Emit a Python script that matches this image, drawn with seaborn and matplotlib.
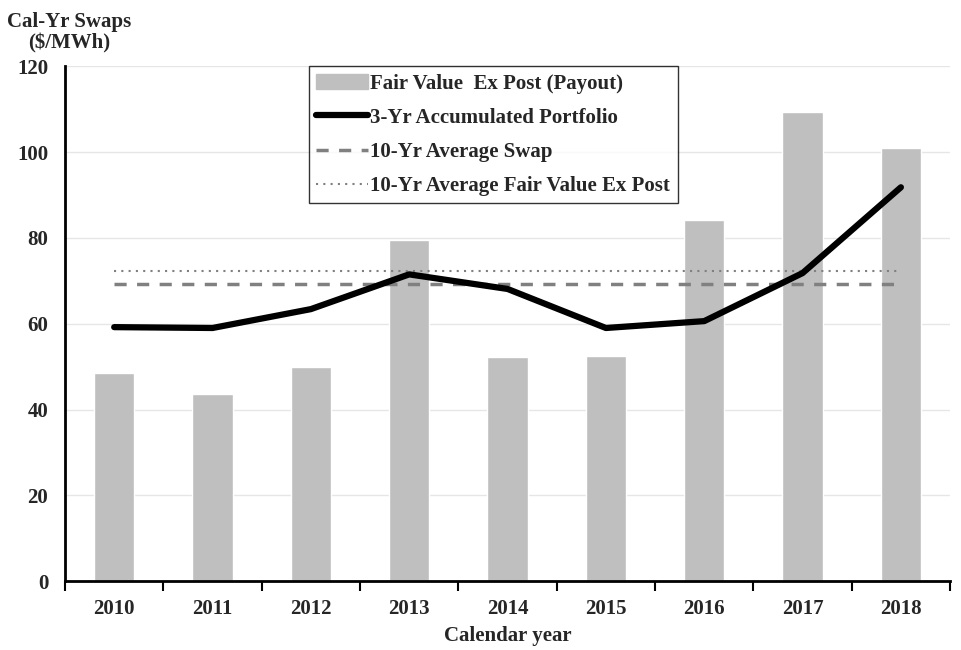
import matplotlib
matplotlib.use("Agg")
import matplotlib.pyplot as plt
import seaborn as sns
import pandas as pd
from matplotlib.patches import Patch
from matplotlib.lines import Line2D

# values
years = ["2010", "2011", "2012", "2013", "2014", "2015", "2016", "2017", "2018"]
fair_value_payout = [48.5, 43.5, 50.0, 79.5, 52.3, 52.5, 84.1, 109.3, 100.9]
portfolio_3yr = [59.2, 59.0, 63.4, 71.5, 68.1, 59.0, 60.6, 71.8, 91.8]
avg_swap_10yr = 69.3
avg_fair_value_10yr = 72.3

df = pd.DataFrame({"year": years, "payout": fair_value_payout,
                   "portfolio": portfolio_3yr,
                   "swap": [avg_swap_10yr] * len(years),
                   "fv": [avg_fair_value_10yr] * len(years)})

sns.set_style("white")
plt.rcParams['font.family'] = ['Liberation Serif', 'DejaVu Serif']
plt.rcParams['font.weight'] = 'bold'

fig = plt.figure(figsize=(9.62, 6.5), dpi=100)
ax = fig.add_axes([0.0676, 0.106, 0.92, 0.792])

ax.yaxis.grid(True, color="#e6e6e6", lw=1)
ax.set_axisbelow(True)

sns.barplot(data=df, x="year", y="payout", color="#bfbfbf", width=0.41,
            saturation=1, ax=ax)
sns.lineplot(data=df, x="year", y="swap", color="#808080", lw=2.5,
             linestyle=(0, (3.5, 3)), ax=ax)
sns.lineplot(data=df, x="year", y="fv", color="#808080", lw=1.5,
             linestyle=(0, (1, 2.5)), ax=ax)
sns.lineplot(data=df, x="year", y="portfolio", color="black", lw=4.5,
             solid_capstyle="round", ax=ax)

ax.set_ylim(0, 120)
ax.set_xlim(-0.5, len(years) - 0.5)
ax.set_yticks(range(0, 121, 20))
ax.tick_params(axis="y", length=0, labelsize=15, pad=12)
ax.tick_params(axis="x", length=0, labelsize=15, pad=13)
# tick marks between categories
ax.set_xticks([i + 0.5 for i in range(-1, len(years))], minor=True)
ax.tick_params(axis="x", which="minor", length=7, width=1.5, direction="out",
               color="black", bottom=True)
for lbl in ax.get_xticklabels() + ax.get_yticklabels():
    lbl.set_fontweight("bold")

ax.set_xlabel("Calendar year", fontsize=15, fontweight="bold", labelpad=5)
ax.set_ylabel("")
for side in ["top", "right"]:
    ax.spines[side].set_visible(False)
ax.spines["left"].set_linewidth(2)
ax.spines["bottom"].set_linewidth(2)
ax.spines["left"].set_color("black")
ax.spines["bottom"].set_color("black")

fig.text(0.072, 0.982, "Cal-Yr Swaps\n($/MWh)", ha="center", va="top",
         fontsize=15, fontweight="bold", linespacing=1.15)

handles = [Patch(color="#bfbfbf"),
           Line2D([], [], color="black", lw=4.5),
           Line2D([], [], color="#808080", lw=2.5, linestyle=(0, (3.5, 3))),
           Line2D([], [], color="#808080", lw=1.5, linestyle=(0, (1, 2.5)))]
labels = ["Fair Value  Ex Post (Payout)", "3-Yr Accumulated Portfolio",
          "10-Yr Average Swap", "10-Yr Average Fair Value Ex Post"]
leg = ax.legend(handles, labels, loc="upper left", bbox_to_anchor=(0.2757, 1.0),
                borderaxespad=0, frameon=True, fancybox=False,
                handlelength=2.5, handletextpad=0.1, labelspacing=0.68,
                borderpad=0.35, prop={"weight": "bold", "size": 15})
leg.get_frame().set_edgecolor("black")
leg.get_frame().set_linewidth(1)

fig.savefig("out.png", dpi=100)
